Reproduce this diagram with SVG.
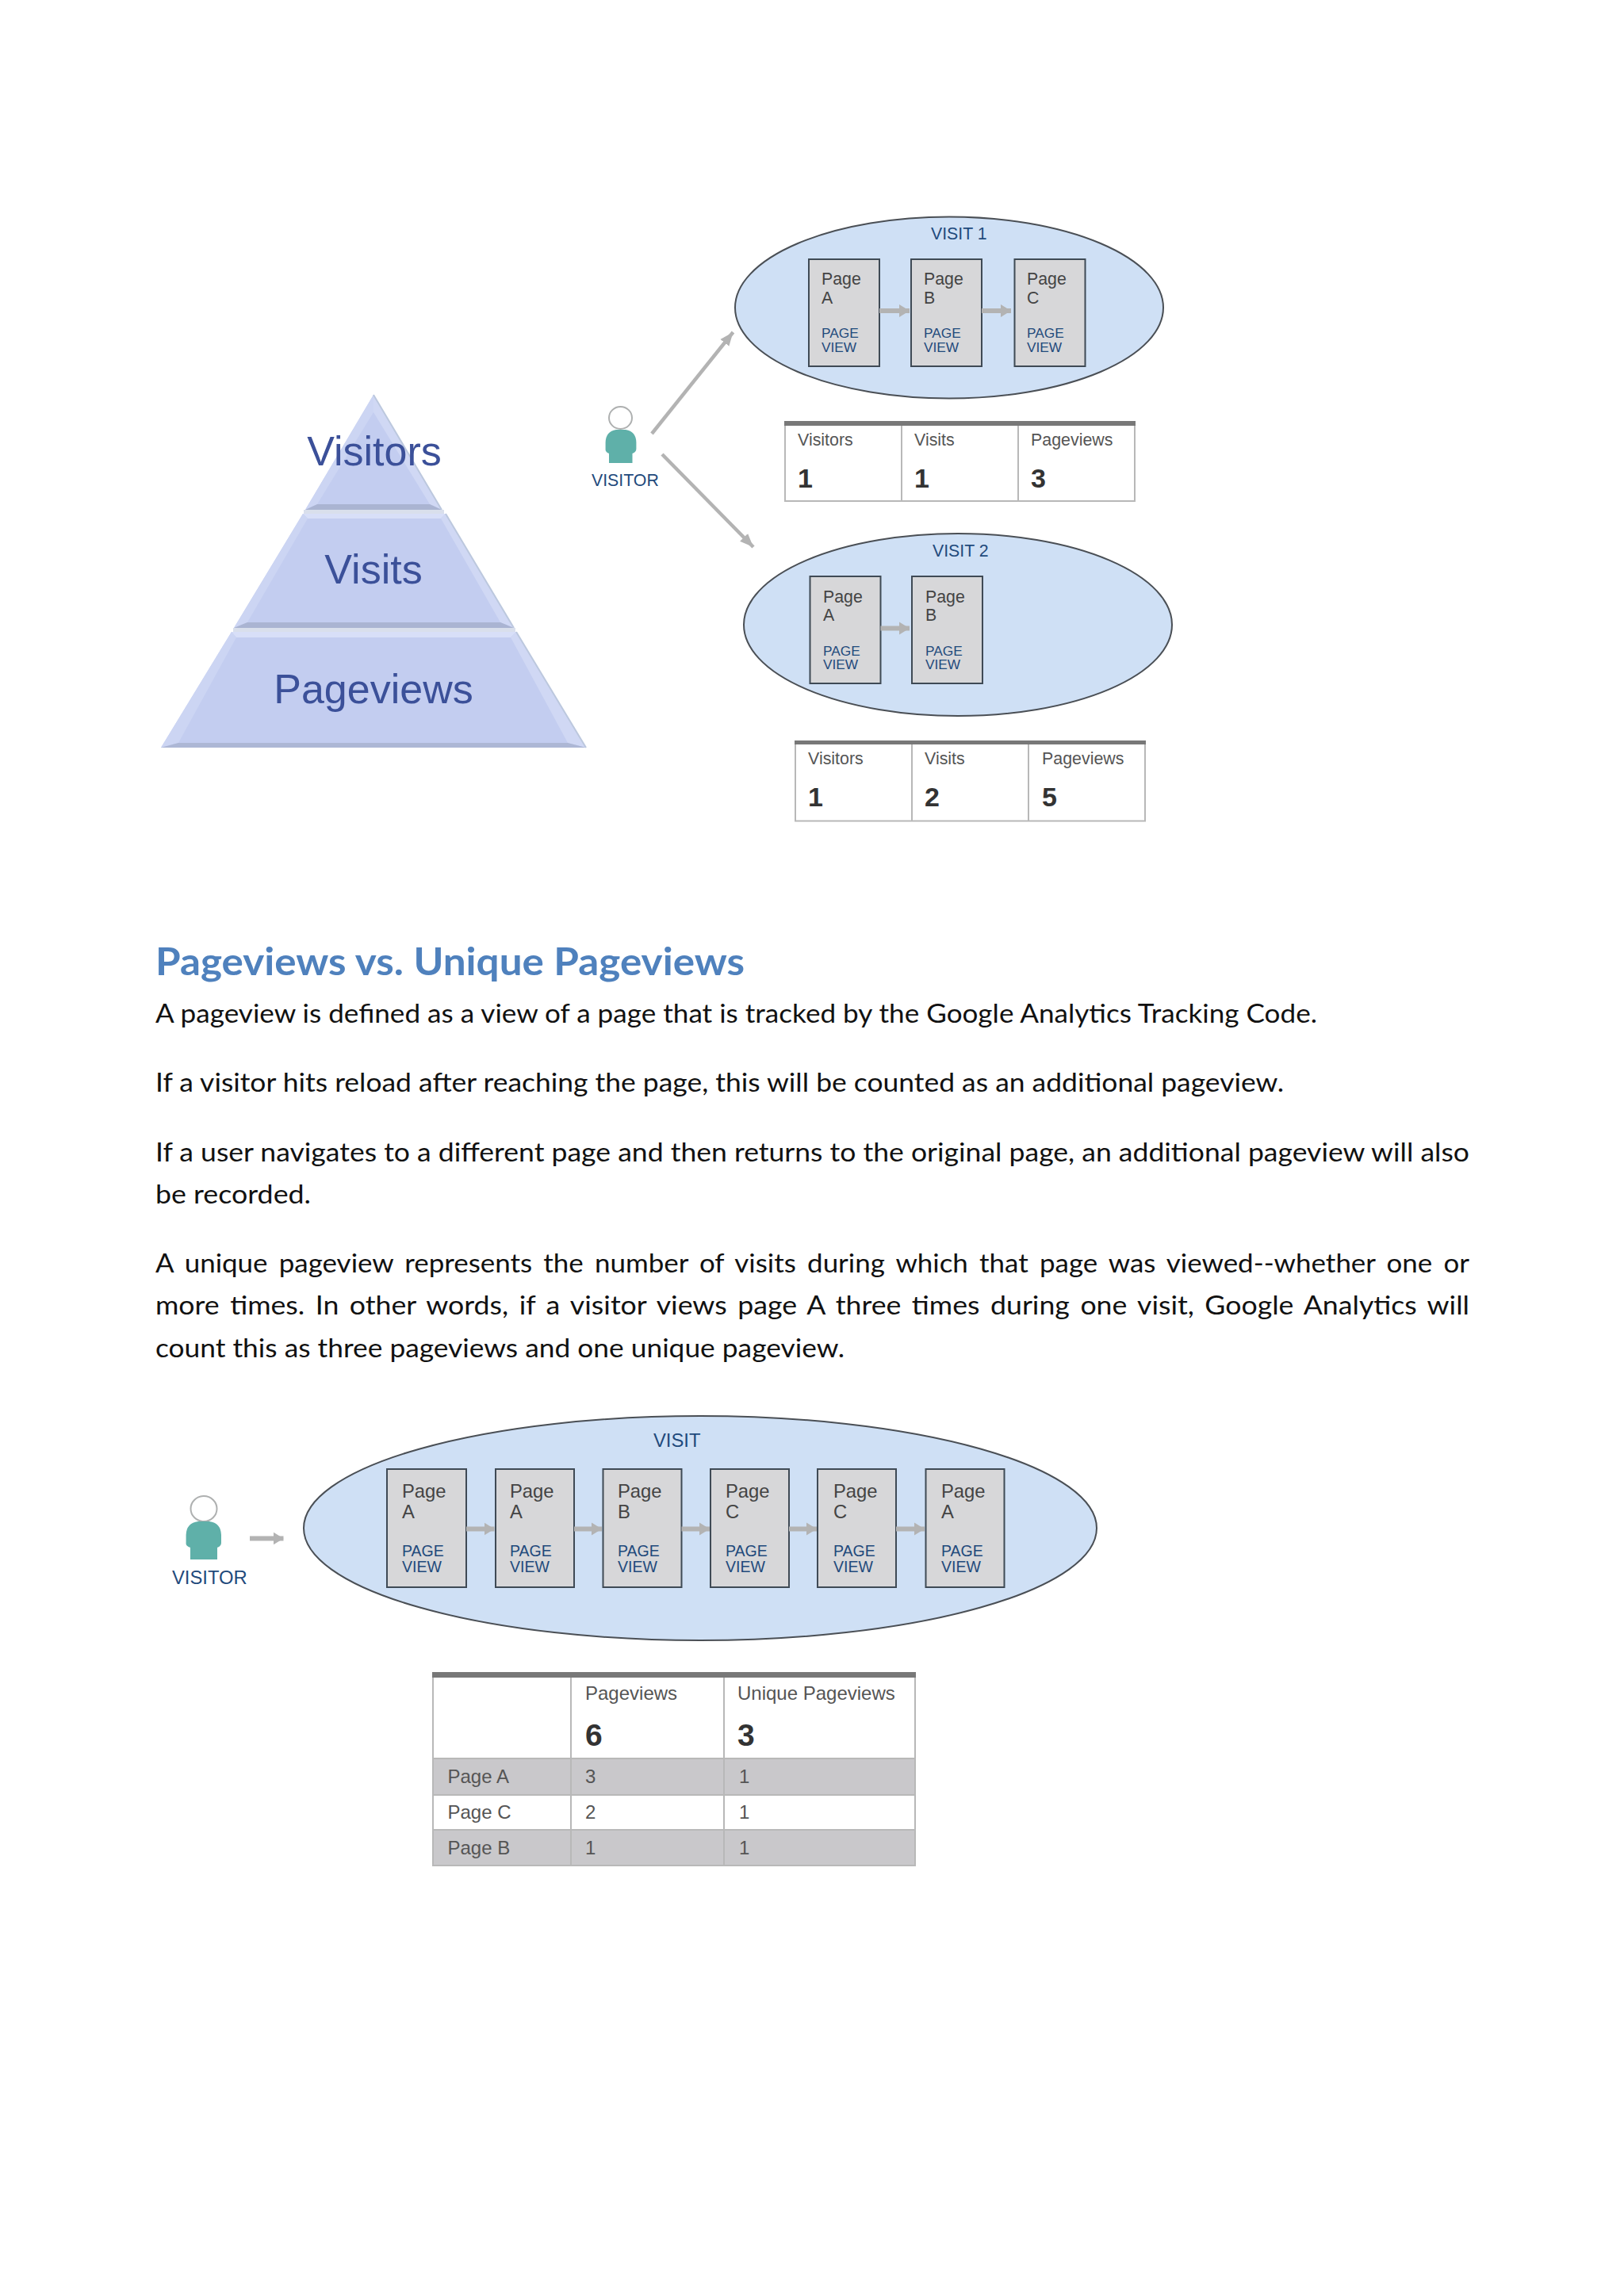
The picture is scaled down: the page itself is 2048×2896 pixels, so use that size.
<svg xmlns="http://www.w3.org/2000/svg" width="2048" height="2896" viewBox="0 0 2048 2896">
<style>
text{font-family:"Liberation Sans",Arial,sans-serif}
.doc{font-family:Lato,"Open Sans",sans-serif;font-size:33px;fill:#111}
.h{font-family:Lato,"Open Sans",sans-serif;font-size:48px;font-weight:700;fill:#4f81bd}
.py{font-size:52px;fill:#3b5099;text-anchor:middle}
.ell{fill:#cfe0f5;stroke:#4a4f55;stroke-width:2}
.box{fill:#d7d7d9;stroke:#3f4a55;stroke-width:2}
.pg{font-size:21.300px;fill:#444}
.pv{font-size:17.300px;fill:#1f4a7c}
.pg2{font-size:23.800px;fill:#444}
.pv2{font-size:19.500px;fill:#1f4a7c}
.vis{font-size:21.300px;fill:#1f4a7c}
.vis2{font-size:23.800px;fill:#1f4a7c}
.tb{fill:#fff;stroke:#b8b8b8;stroke-width:2}
.bar{fill:#787878}
.grid{stroke:#b8b8b8;stroke-width:2}
.th{font-size:21.400px;fill:#555}
.tv{font-size:34px;font-weight:700;fill:#333}
.th2{font-size:24px;fill:#555}
.tv2{font-size:39px;font-weight:700;fill:#333}
.grey{fill:#c9c8cb}
.conn{stroke:#b3b3b3;fill:none}
.head{fill:#fff;stroke:#aeb0b0;stroke-width:2}
.body{fill:#5fb0a9}
</style>
<defs>
<marker id="sm" markerUnits="userSpaceOnUse" markerWidth="14" markerHeight="18" refX="13" refY="9" orient="auto"><path d="M0 1L13 9L0 17Z" fill="#b3b3b3"/></marker>
<marker id="big" markerUnits="userSpaceOnUse" markerWidth="18" markerHeight="16" refX="17" refY="8" orient="auto"><path d="M0 1L17 8L0 15Z" fill="#b3b3b3"/></marker>
</defs>
<rect width="2048" height="2896" fill="#fff"/>

<g id="pyramid">
<g id="pyr-visitors">
<polygon points="471,498 557,643 385,643" fill="#c3cdf0"/>
<polygon points="471,498 471,520 400,636 385,643" fill="#ccd5f3"/>
<polygon points="471,498 471,520 542,636 557,643" fill="#d0d8f4"/>
<polygon points="385,643 400,636 542,636 557,643" fill="#aab4d2"/>
<polyline points="471,498 557,643" fill="none" stroke="#bcc8de" stroke-width="2"/>
</g>
<rect x="383" y="643" width="177" height="5" fill="#d9dfec"/>
<g id="pyr-visits">
<polygon points="382,648 562,648 648,792 295,792" fill="#c3cdf0"/>
<polygon points="382,648 562,648 556,654 388,654" fill="#d8dff8"/>
<polygon points="382,648 388,654 312,785 295,792" fill="#ccd5f3"/>
<polygon points="562,648 556,654 631,785 648,792" fill="#d0d8f4"/>
<polygon points="295,792 312,785 631,785 648,792" fill="#aab4d2"/>
<polyline points="562,648 648,792" fill="none" stroke="#bcc8de" stroke-width="2"/>
</g>
<rect x="294" y="792" width="356" height="5" fill="#d9dfec"/>
<g id="pyr-pageviews">
<polygon points="292,797 651,797 739,943 203,943" fill="#c3cdf0"/>
<polygon points="292,797 651,797 644,804 298,804" fill="#d8dff8"/>
<polygon points="292,797 298,804 225,937 203,943" fill="#ccd5f3"/>
<polygon points="651,797 644,804 716,937 739,943" fill="#d0d8f4"/>
<polygon points="203,943 225,937 716,937 739,943" fill="#adb7d5"/>
<polyline points="651,797 739,943" fill="none" stroke="#bcc8de" stroke-width="2"/>
</g>
<text class="py" x="472" y="587">Visitors</text>
<text class="py" x="471" y="736">Visits</text>
<text class="py" x="471" y="887">Pageviews</text>
</g>

<g id="visitor-1">
<ellipse class="head" cx="782.500" cy="527" rx="14.500" ry="14"/>
<path class="body" d="M768 584L768 572Q763 570 763.600 566L763.600 558Q764 544 777 542L789 542Q802 544 802.400 558L802.400 566Q802.500 570 797.500 572L797.500 584Z"/>
<text class="vis" x="746" y="612.500">VISITOR</text>
</g>

<g id="visit-1">
<ellipse class="ell" cx="1197" cy="388" rx="270" ry="114.500"/>
<text class="vis" x="1174" y="302">VISIT 1</text>
</g>
<g id="v1-page-a"><rect class="box" x="1020" y="327" width="89" height="135"/><text class="pg" x="1036" y="359">Page</text><text class="pg" x="1036" y="383">A</text><text class="pv" x="1036" y="426">PAGE</text><text class="pv" x="1036" y="444">VIEW</text></g>
<g id="v1-page-b"><rect class="box" x="1149" y="327" width="89" height="135"/><text class="pg" x="1165" y="359">Page</text><text class="pg" x="1165" y="383">B</text><text class="pv" x="1165" y="426">PAGE</text><text class="pv" x="1165" y="444">VIEW</text></g>
<g id="v1-page-c"><rect class="box" x="1279.500" y="327" width="89" height="135"/><text class="pg" x="1295" y="359">Page</text><text class="pg" x="1295" y="383">C</text><text class="pv" x="1295" y="426">PAGE</text><text class="pv" x="1295" y="444">VIEW</text></g>

<g id="table-1">
<rect class="tb" x="990" y="532" width="441" height="100"/>
<rect class="bar" x="989" y="531" width="443" height="6"/>
<path class="grid" d="M1137 537V632M1284 537V632"/>
<text class="th" x="1006" y="562">Visitors</text><text class="th" x="1153" y="562">Visits</text><text class="th" x="1300" y="562">Pageviews</text>
<text class="tv" x="1006" y="615">1</text><text class="tv" x="1153" y="615">1</text><text class="tv" x="1300" y="615">3</text>
</g>

<g id="visit-2">
<ellipse class="ell" cx="1208" cy="788" rx="270" ry="115"/>
<text class="vis" x="1176" y="702">VISIT 2</text>
</g>
<g id="v2-page-a"><rect class="box" x="1021.500" y="727" width="89" height="135"/><text class="pg" x="1038" y="760">Page</text><text class="pg" x="1038" y="783">A</text><text class="pv" x="1038" y="827">PAGE</text><text class="pv" x="1038" y="844">VIEW</text></g>
<g id="v2-page-b"><rect class="box" x="1150" y="727" width="89" height="135"/><text class="pg" x="1167" y="760">Page</text><text class="pg" x="1167" y="783">B</text><text class="pv" x="1167" y="827">PAGE</text><text class="pv" x="1167" y="844">VIEW</text></g>

<g id="table-2">
<rect class="tb" x="1003" y="935" width="441" height="100.500"/>
<rect class="bar" x="1002" y="934" width="443" height="5"/>
<path class="grid" d="M1150 939V1035M1297 939V1035"/>
<text class="th" x="1019" y="964">Visitors</text><text class="th" x="1166" y="964">Visits</text><text class="th" x="1314" y="964">Pageviews</text>
<text class="tv" x="1019" y="1017">1</text><text class="tv" x="1166" y="1017">2</text><text class="tv" x="1314" y="1017">5</text>
</g>

<g id="document-text">
<text class="h" x="196" y="1230" textLength="743" lengthAdjust="spacingAndGlyphs">Pageviews vs. Unique Pageviews</text>
<text class="doc" x="196" y="1290" textLength="1465" lengthAdjust="spacingAndGlyphs">A pageview is defined as a view of a page that is tracked by the Google Analytics Tracking Code.</text>
<text class="doc" x="196" y="1377" textLength="1423" lengthAdjust="spacingAndGlyphs">If a visitor hits reload after reaching the page, this will be counted as an additional pageview.</text>
<text class="doc" x="196" y="1465" textLength="1657" lengthAdjust="spacingAndGlyphs">If a user navigates to a different page and then returns to the original page, an additional pageview will also</text>
<text class="doc" x="196" y="1518" textLength="196" lengthAdjust="spacingAndGlyphs">be recorded.</text>
<text class="doc" x="196" y="1605" textLength="1657" lengthAdjust="spacingAndGlyphs" word-spacing="5">A unique pageview represents the number of visits during which that page was viewed--whether one or</text>
<text class="doc" x="196" y="1658" textLength="1657" lengthAdjust="spacingAndGlyphs" word-spacing="4">more times. In other words, if a visitor views page A three times during one visit, Google Analytics will</text>
<text class="doc" x="196" y="1712" textLength="869" lengthAdjust="spacingAndGlyphs">count this as three pageviews and one unique pageview.</text>
</g>

<g id="visitor-3">
<ellipse class="head" cx="257" cy="1903" rx="16.500" ry="16"/>
<path class="body" d="M240 1967L240 1952Q234 1950 234.600 1946L234.600 1936Q235 1921 250 1919L264 1919Q278.500 1921 279 1936L279 1946Q279 1950 274 1952L274 1967Z"/>
<text class="vis2" x="217" y="1997.500">VISITOR</text>
</g>

<g id="visit-3">
<ellipse class="ell" cx="883" cy="1927.500" rx="500" ry="141.500"/>
<text class="vis2" x="824" y="1825">VISIT</text>
</g>
<g id="v3-page-1"><rect class="box" x="488" y="1853" width="100" height="149"/><text class="pg2" x="507" y="1889">Page</text><text class="pg2" x="507" y="1915">A</text><text class="pv2" x="507" y="1963">PAGE</text><text class="pv2" x="507" y="1983">VIEW</text></g>
<g id="v3-page-2"><rect class="box" x="625" y="1853" width="99" height="149"/><text class="pg2" x="643" y="1889">Page</text><text class="pg2" x="643" y="1915">A</text><text class="pv2" x="643" y="1963">PAGE</text><text class="pv2" x="643" y="1983">VIEW</text></g>
<g id="v3-page-3"><rect class="box" x="760.500" y="1853" width="99" height="149"/><text class="pg2" x="779" y="1889">Page</text><text class="pg2" x="779" y="1915">B</text><text class="pv2" x="779" y="1963">PAGE</text><text class="pv2" x="779" y="1983">VIEW</text></g>
<g id="v3-page-4"><rect class="box" x="896" y="1853" width="99" height="149"/><text class="pg2" x="915" y="1889">Page</text><text class="pg2" x="915" y="1915">C</text><text class="pv2" x="915" y="1963">PAGE</text><text class="pv2" x="915" y="1983">VIEW</text></g>
<g id="v3-page-5"><rect class="box" x="1031" y="1853" width="99" height="149"/><text class="pg2" x="1051" y="1889">Page</text><text class="pg2" x="1051" y="1915">C</text><text class="pv2" x="1051" y="1963">PAGE</text><text class="pv2" x="1051" y="1983">VIEW</text></g>
<g id="v3-page-6"><rect class="box" x="1167.500" y="1853" width="99" height="149"/><text class="pg2" x="1187" y="1889">Page</text><text class="pg2" x="1187" y="1915">A</text><text class="pv2" x="1187" y="1963">PAGE</text><text class="pv2" x="1187" y="1983">VIEW</text></g>

<g id="table-3">
<rect class="tb" x="546" y="2110" width="608" height="243"/>
<rect class="grey" x="547" y="2219" width="606" height="45"/>
<rect class="grey" x="547" y="2309" width="606" height="43"/>
<path class="grid" d="M546 2218H1154M546 2264H1154M546 2308H1154M720 2116V2353M913 2116V2353"/>
<rect class="bar" x="545" y="2109" width="610" height="7"/>
<text class="th2" x="738" y="2144">Pageviews</text><text class="th2" x="930" y="2144">Unique Pageviews</text>
<text class="tv2" x="738" y="2202">6</text><text class="tv2" x="930" y="2202">3</text>
<text class="th2" x="564.500" y="2249">Page A</text><text class="th2" x="738" y="2249">3</text><text class="th2" x="932" y="2249">1</text>
<text class="th2" x="564.500" y="2294">Page C</text><text class="th2" x="738" y="2294">2</text><text class="th2" x="932" y="2294">1</text>
<text class="th2" x="564.500" y="2339">Page B</text><text class="th2" x="738" y="2339">1</text><text class="th2" x="932" y="2339">1</text>
</g>

<g id="connectors" class="conn">
<line x1="822" y1="547" x2="924.500" y2="419" stroke-width="4.500" marker-end="url(#big)"/>
<line x1="835" y1="573" x2="950" y2="690" stroke-width="4.500" marker-end="url(#big)"/>
<line x1="1109" y1="392" x2="1147" y2="392" stroke-width="6" marker-end="url(#sm)"/>
<line x1="1238" y1="392" x2="1275" y2="392" stroke-width="6" marker-end="url(#sm)"/>
<line x1="1110.500" y1="792.500" x2="1147" y2="792.500" stroke-width="6" marker-end="url(#sm)"/>
<line x1="315" y1="1940.500" x2="357.500" y2="1940.500" stroke-width="6" marker-end="url(#sm)"/>
<line x1="588" y1="1928.500" x2="623.500" y2="1928.500" stroke-width="6" marker-end="url(#sm)"/>
<line x1="724" y1="1928.500" x2="759" y2="1928.500" stroke-width="6" marker-end="url(#sm)"/>
<line x1="859.500" y1="1928.500" x2="895" y2="1928.500" stroke-width="6" marker-end="url(#sm)"/>
<line x1="995" y1="1928.500" x2="1030" y2="1928.500" stroke-width="6" marker-end="url(#sm)"/>
<line x1="1130" y1="1928.500" x2="1166" y2="1928.500" stroke-width="6" marker-end="url(#sm)"/>
</g>
</svg>
